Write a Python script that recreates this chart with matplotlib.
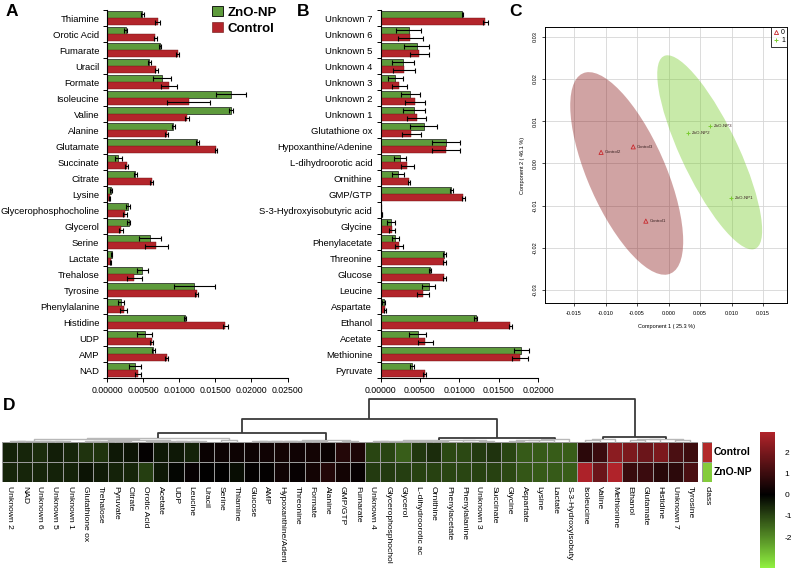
import numpy as np
import matplotlib
matplotlib.use('Agg')
import matplotlib.pyplot as plt
from matplotlib.colors import LinearSegmentedColormap, Normalize, ListedColormap
from matplotlib.patches import Ellipse, Patch
from matplotlib.lines import Line2D

plt.rcParams['font.family'] = ['Liberation Sans', 'DejaVu Sans']

# ---------------- data ----------------
a_names = ['Thiamine', 'Orotic Acid', 'Fumarate', 'Uracil', 'Formate', 'Isoleucine', 'Valine',
           'Alanine', 'Glutamate', 'Succinate', 'Citrate', 'Lysine', 'Glycerophosphocholine',
           'Glycerol', 'Serine', 'Lactate', 'Trehalose', 'Tyrosine', 'Phenylalanine',
           'Histidine', 'UDP', 'AMP', 'NAD']
a_zno = [0.00486, 0.00257, 0.00734, 0.00587, 0.0076, 0.0172, 0.0172, 0.0092, 0.0125, 0.00156,
         0.0039, 0.00055, 0.0029, 0.0030, 0.0060, 0.00064, 0.0049, 0.0121, 0.0019, 0.0108,
         0.0052, 0.0064, 0.0039]
a_zno_err = [0.0002, 0.0002, 0.0002, 0.0002, 0.0012, 0.0021, 0.0003, 0.0002, 0.0002, 0.0005,
             0.0002, 0.0001, 0.0003, 0.0002, 0.0015, 0.0001, 0.0008, 0.0028, 0.0004, 0.0001,
             0.0011, 0.0002, 0.0008]
a_ctrl = [0.0070, 0.0067, 0.00977, 0.0068, 0.0086, 0.0113, 0.0111, 0.0083, 0.0151, 0.00275,
          0.0062, 0.00037, 0.0025, 0.0019, 0.0068, 0.0005, 0.0038, 0.0124, 0.0023, 0.0164,
          0.0062, 0.0083, 0.0043]
a_ctrl_err = [0.0003, 0.0002, 0.0002, 0.0002, 0.0011, 0.0030, 0.0003, 0.0002, 0.0002, 0.0002,
              0.0002, 0.0001, 0.0003, 0.0003, 0.0016, 0.0001, 0.0010, 0.0002, 0.0005, 0.0004,
              0.0002, 0.0002, 0.0004]

b_names = ['Unknown 7', 'Unknown 6', 'Unknown 5', 'Unknown 4', 'Unknown 3', 'Unknown 2',
           'Unknown 1', 'Glutathione ox', 'Hypoxanthine/Adenine', 'L-dihydroorotic acid',
           'Ornithine', 'GMP/GTP', 'S-3-Hydroxyisobutyric acid', 'Glycine', 'Phenylacetate',
           'Threonine', 'Glucose', 'Leucine', 'Aspartate', 'Ethanol', 'Acetate', 'Methionine',
           'Pyruvate']
b_zno = [0.0104, 0.0036, 0.0046, 0.0029, 0.0019, 0.0038, 0.0042, 0.0055, 0.0083, 0.0025,
         0.0022, 0.0090, 0.0001, 0.00135, 0.0019, 0.0081, 0.0063, 0.0061, 0.0004, 0.0121,
         0.0047, 0.0179, 0.0040]
b_zno_err = [0.0001, 0.0016, 0.0016, 0.0014, 0.0010, 0.0012, 0.0014, 0.0017, 0.0018, 0.0008,
             0.0008, 0.0002, 0.0, 0.0005, 0.0004, 0.0002, 0.0001, 0.0008, 0.0002, 0.0002,
             0.0011, 0.0009, 0.0002]
b_ctrl = [0.0133, 0.0038, 0.0049, 0.0030, 0.0024, 0.0044, 0.0046, 0.0039, 0.0083, 0.0034,
          0.0036, 0.0105, 0.0002, 0.0015, 0.0024, 0.0081, 0.0081, 0.0054, 0.0006, 0.0165,
          0.0057, 0.0177, 0.0056]
b_ctrl_err = [0.0003, 0.0016, 0.0012, 0.0014, 0.0010, 0.0013, 0.0012, 0.0012, 0.0018, 0.0008,
              0.0001, 0.0002, 0.0, 0.0004, 0.0005, 0.0002, 0.0002, 0.0008, 0.0001, 0.0002,
              0.0010, 0.0010, 0.0002]

pca_labels = ['Control1', 'Control2', 'Control3', 'ZnO-NP1', 'ZnO-NP2', 'ZnO-NP3']
pca_group = [0, 0, 0, 1, 1, 1]
pca_x = [-0.0036, -0.0107, -0.0056, 0.0099, 0.0031, 0.0066]
pca_y = [-0.0137, 0.0026, 0.0039, -0.0082, 0.0071, 0.0089]

heat_cols = ['Unknown 2', 'NAD', 'Unknown 6', 'Unknown 5', 'Unknown 1', 'Glutathione ox',
             'Trehalose', 'Pyruvate', 'Citrate', 'Orotic Acid', 'Acetate', 'UDP', 'Leucine',
             'Uracil', 'Serine', 'Thiamine', 'Glucose', 'AMP', 'Hypoxanthine/Adeni',
             'Threonine', 'Formate', 'Alanine', 'GMP/GTP', 'Fumarate', 'Unknown 4',
             'Glycerophosphochol', 'Glycerol', 'L-dihydroorotic ac', 'Ornithine',
             'Phenylacetate', 'Phenylalanine', 'Unknown 3', 'Succinate', 'Glycine', 'Aspartate',
             'Lysine', 'Lactate', 'S-3-Hydroxyisobuty', 'Isoleucine', 'Valine', 'Methionine',
             'Ethanol', 'Glutamate', 'Histidine', 'Unknown 7', 'Tyrosine']
heat_control = [-0.5, -0.55, -0.65, -0.45, -0.55, -0.75, -0.75, -0.35, -0.3, 0.05, -0.35, -0.35,
                -0.5, 0.15, 0.2, 0.2, 0.2, 0.25, 0.3, 0.25, 0.3, 0.15, 0.6, 0.45,
                -1.0, -1.0, -1.35, -0.8, -0.65, -1.05, -1.05, -0.85, -0.75, -1.0, -1.29, -1.3,
                -1.32, -1.33, 0.7, 0.97, 2.3, 2.05, 1.78, 2.05, 1.24, 1.0]
heat_zno = [-0.55, -0.55, -0.55, -0.5, -0.5, -0.3, -0.4, -0.5, -0.55, -0.9, -0.35, -0.1,
            0.1, 0.0, 0.0, -0.2, 0.05, 0.05, 0.25, 0.1, 0.3, 0.55, 0.3, 0.1,
            -0.85, -0.85, -0.9, -0.95, -0.95, -1.0, -1.0, -0.95, -0.95, -1.05, -1.25, -1.3,
            -1.3, -1.33, 2.9, 1.78, 2.95, 0.94, 0.97, 0.67, 0.74, 1.24]
heat_rows = ['Control', 'ZnO-NP']
heat_vmin, heat_vmax = -3.45, 2.95
cbar_ticks = [2, 1, 0, -1, -2]

# dendrogram: (height, left, right); leaves are column indices
tree = (1.0,
        (0.535,
         (0.216,
          (0.086,
           (0.06,
            (0.035, (0.02, 0, 1), (0.025, 2, (0.015, 3, 4))),
            (0.045, (0.03, (0.02, 5, 6), (0.02, 7, 8)),
             (0.035, (0.025, 9, 10), (0.03, 11, (0.02, 12, 13))))),
           (0.045, 14, 15)),
          (0.04,
           (0.035, (0.03, (0.025, (0.02, 16, 17), 18), 19), (0.02, 20, 21)),
           (0.03, 22, 23))),
         (0.093,
          (0.05, (0.035, (0.02, 24, 25), (0.03, (0.02, 26, 27), (0.025, 28, 29))),
           (0.04, 30, (0.025, 31, 32))),
          (0.06, (0.05, (0.04, (0.03, 33, 34), 35), 36), 37))),
        (0.123,
         (0.07, (0.04, 38, 39), 40),
         (0.08, (0.06, (0.045, 41, 42), 43), (0.05, 44, 45))))

# ---------------- figure ----------------
W, H = 793, 570
fig = plt.figure(figsize=(W / 100, H / 100), dpi=100)


def ax_px(l, t, r, b):
    return fig.add_axes([l / W, 1 - b / H, (r - l) / W, (b - t) / H])


GREEN = '#5e9b3c'
RED = '#b3252b'


def bar_panel(ax, names, zno, zno_err, ctrl, ctrl_err, xmax, ticks, pad):
    n = len(names)
    y = np.arange(n)
    h = 0.44
    ekw = dict(ecolor='black', elinewidth=0.8, capsize=1.8, capthick=0.8)
    ax.barh(y - h / 2, zno, height=h, color=GREEN, edgecolor='#1a1a1a', linewidth=0.5,
            xerr=zno_err, error_kw=ekw)
    ax.barh(y + h / 2, ctrl, height=h, color=RED, edgecolor='#6a1010', linewidth=0.3,
            xerr=ctrl_err, error_kw=ekw)
    ax.set_ylim(n - 0.5, -0.5)
    ax.set_xlim(0, xmax)
    ax.set_yticks(y)
    ax.set_yticklabels(names, fontsize=6.8)
    ax.tick_params(axis='y', which='major', length=0, pad=pad)
    ax.set_yticks(np.arange(n + 1) - 0.5, minor=True)
    ax.tick_params(axis='y', which='minor', length=3, width=0.7)
    ax.set_xticks(ticks)
    ax.set_xticklabels([f'{t:.5f}' for t in ticks], fontsize=6.3)
    ax.tick_params(axis='x', length=3, width=0.7, pad=3)
    for s in ['top', 'right']:
        ax.spines[s].set_visible(False)
    ax.spines['left'].set_linewidth(0.8)
    ax.spines['bottom'].set_linewidth(0.8)


axA = ax_px(107, 10, 287.5, 378)
bar_panel(axA, a_names, a_zno, a_zno_err, a_ctrl, a_ctrl_err, 0.025,
          [0, 0.005, 0.01, 0.015, 0.02, 0.025], 5.5)
axB = ax_px(380.5, 10, 538, 378)
bar_panel(axB, b_names, b_zno, b_zno_err, b_ctrl, b_ctrl_err, 0.02,
          [0, 0.005, 0.01, 0.015, 0.02], 6)

fig.legend(handles=[Patch(facecolor=GREEN, edgecolor='black', linewidth=0.6),
                    Patch(facecolor=RED, edgecolor='#6a1010', linewidth=0.4)],
           labels=['ZnO-NP', 'Control'], loc='upper left',
           bbox_to_anchor=(212 / W, 1 - 6 / H), frameon=False,
           prop={'weight': 'bold', 'size': 9.5}, handlelength=0.8, handleheight=0.8,
           handletextpad=0.4, labelspacing=0.25, borderpad=0, borderaxespad=0)

# ---------------- panel C ----------------
axC = ax_px(545, 27, 787, 303)
px = np.array(pca_x)
py = np.array(pca_y)
grp = np.array(pca_group)
fills = {0: ('#8b1a1a', 0.4), 1: ('#7ccd32', 0.42)}
for g in [0, 1]:
    xs, ys = px[grp == g], py[grp == g]
    cov = np.cov(np.vstack([xs, ys]))
    vals, vecs = np.linalg.eigh(cov)
    k = np.sqrt(5.991)
    ang = np.degrees(np.arctan2(vecs[1, 1], vecs[0, 1]))
    e = Ellipse((xs.mean(), ys.mean()), 2 * k * np.sqrt(vals[1]), 2 * k * np.sqrt(vals[0]),
                angle=ang, facecolor=fills[g][0], alpha=fills[g][1], edgecolor='none', zorder=1)
    axC.add_patch(e)
ctrl_m = grp == 0
axC.scatter(px[ctrl_m], py[ctrl_m], marker='^', s=9, facecolors='none', edgecolors='#c8282d',
            linewidths=0.6, zorder=3)
axC.scatter(px[~ctrl_m], py[~ctrl_m], marker='+', s=10, c='#7ccd32', linewidths=0.7, zorder=3)
for lx, ly, lab in zip(px, py, pca_labels):
    axC.text(lx + 0.0006, ly, lab, fontsize=3.2, va='center', ha='left', color='#3a2222', zorder=4)
axC.set_xlim(-0.0196, 0.0188)
axC.set_ylim(-0.0331, 0.0323)
axC.set_xticks([-0.015, -0.01, -0.005, 0, 0.005, 0.01, 0.015])
axC.set_xticklabels(['-0.015', '-0.010', '-0.005', '0.000', '0.005', '0.010', '0.015'], fontsize=4)
axC.set_yticks([-0.03, -0.02, -0.01, 0, 0.01, 0.02, 0.03])
axC.set_yticklabels(['-0.03', '-0.02', '-0.01', '0.00', '0.01', '0.02', '0.03'], fontsize=4,
                    rotation=90, va='center')
axC.tick_params(length=2, width=0.5, pad=3.5)
axC.grid(True, color='#d6d6d6', linewidth=0.6, zorder=0)
axC.set_axisbelow(True)
for s in axC.spines.values():
    s.set_linewidth(0.7)
axC.set_xlabel('Component 1 ( 25.3 %)', fontsize=4, labelpad=6)
axC.set_ylabel('Component 2 ( 46.1 %)', fontsize=4, labelpad=5)
axC.legend(handles=[Line2D([], [], marker='^', ls='none', mfc='none', mec='#c8282d', ms=3, mew=0.6),
                    Line2D([], [], marker='+', ls='none', color='#7ccd32', ms=3.5, mew=0.7)],
           labels=['0', '1'], loc='upper right', fontsize=5, frameon=True, fancybox=False,
           edgecolor='black', borderaxespad=0, handlelength=0.8, handletextpad=0.3,
           borderpad=0.3, labelspacing=0.2).get_frame().set_linewidth(0.7)

# ---------------- panel D heatmap ----------------
frac0 = -heat_vmin / (heat_vmax - heat_vmin)
cmap = LinearSegmentedColormap.from_list('gbr', [(0, '#90f040'), (frac0, '#000000'),
                                                 (1, '#b0232a')])
norm = Normalize(heat_vmin, heat_vmax)
Z = np.array([heat_control, heat_zno])
ncol = len(heat_cols)
axD = ax_px(2, 442, 698, 482)
mesh = axD.pcolormesh(np.arange(ncol + 1), np.arange(3), Z, cmap=cmap, norm=norm,
                      edgecolors='#9a9a9a', linewidth=0.6)
axD.set_xlim(0, ncol)
axD.set_ylim(2, 0)
axD.set_yticks([])
axD.set_xticks(np.arange(ncol) + 0.5)
axD.set_xticklabels(heat_cols, rotation=270, fontsize=6.1, va='top', ha='center')
axD.tick_params(axis='x', length=0, pad=3)
for s in axD.spines.values():
    s.set_visible(False)

# class bar
axK = ax_px(702, 442, 712, 482)
axK.pcolormesh(np.arange(2), np.arange(3), np.array([[0], [1]]),
               cmap=ListedColormap(['#b22a2a', '#84cc3c']), edgecolors='#9a9a9a', linewidth=0.6)
axK.set_xlim(0, 1)
axK.set_ylim(2, 0)
axK.set_yticks([])
axK.set_xticks([0.5])
axK.set_xticklabels(['class'], rotation=270, fontsize=6.1, va='top', ha='center')
axK.tick_params(axis='x', length=0, pad=3)
for s in axK.spines.values():
    s.set_visible(False)
for i, lab in enumerate(heat_rows):
    axK.text(1.15, i + 0.5, lab, fontsize=7.5, fontweight='bold', va='center', ha='left',
             transform=axK.transData)

# dendrogram
axT = ax_px(2, 397, 698, 442)
axT.set_xlim(0, ncol)
axT.set_ylim(0, 1.05)
axT.axis('off')


def draw(node):
    if not isinstance(node, tuple):
        return node + 0.5, 0.0
    h, l, r = node
    xl, hl = draw(l)
    xr, hr = draw(r)
    col, lw = ('#3a3a3a', 1.3) if h >= 0.09 else ('#b8b8b8', 1.0)
    axT.plot([xl, xl, xr, xr], [hl, h, h, hr], color=col, lw=lw, solid_capstyle='butt',
             clip_on=False)
    return (xl + xr) / 2, h


draw(tree)

# colorbar
axCB = ax_px(760, 432, 775, 568)
cb = fig.colorbar(mesh, cax=axCB)
cb.outline.set_visible(False)
cb.set_ticks(cbar_ticks)
cb.set_ticklabels([str(t) for t in cbar_ticks])
axCB.tick_params(length=0, labelsize=6, pad=7)

# panel letters
for lab, x, y in [('A', 12, 11), ('B', 303, 11), ('C', 515, 11), ('D', 9, 406)]:
    fig.text(x / W, 1 - y / H, lab, fontsize=12.5, fontweight='bold', ha='center', va='center')

fig.savefig('out.png', dpi=100)
